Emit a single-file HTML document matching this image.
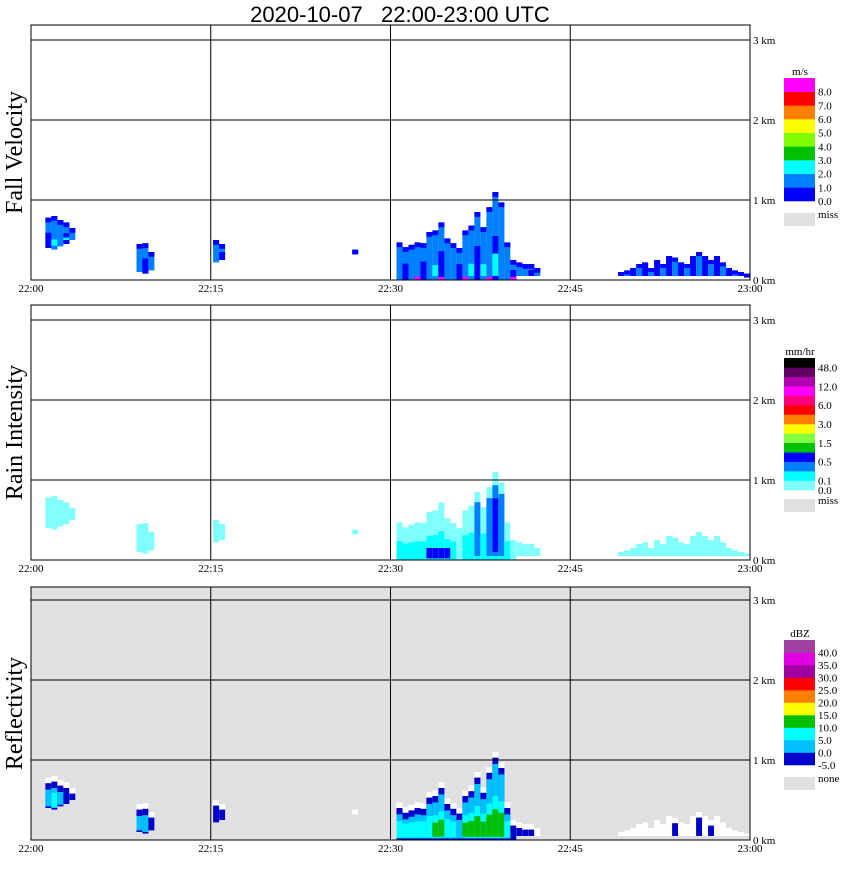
<!DOCTYPE html>
<html><head><meta charset="utf-8"><style>
body{margin:0;background:#fff;width:850px;height:868px;overflow:hidden}
svg text{font-family:"Liberation Serif",serif}
svg text.title{font-family:"Liberation Sans",sans-serif}
</style></head><body>
<svg id="c" width="850" height="868" xmlns="http://www.w3.org/2000/svg">
<text class="title" x="400" y="22" font-size="22" text-anchor="middle" xml:space="preserve">2020-10-07   22:00-23:00 UTC</text>
</svg>
<script>
// ---- data (time in minutes after 22:00, heights in km) ----
const timeTicks=[0,15,30,45,60];
const timeLabels=["22:00","22:15","22:30","22:45","23:00"];
const heightTicks=[0,1,2,3];
const heightLabels=["0 km","1 km","2 km","3 km"];
const panelTitles=["Fall Velocity","Rain Intensity","Reflectivity"];
const colTimes=[1.2,1.7,2.2,2.7,3.2, 8.8,9.3,9.8, 15.2,15.7, 26.8,
 30.5,31.0,31.5,32.0,32.5,33.0,33.5,34.0,34.5,35.0,35.5,36.0,36.5,37.0,37.5,38.0,38.5,39.0,39.5,40.0,40.5,41.0,41.5,42.0,
 49.0,49.5,50.0,50.5,51.0,51.5,52.0,52.5,53.0,53.5,54.0,54.5,55.0,55.5,56.0,56.5,57.0,57.5,58.0,58.5,59.0,59.5];
const colTops=[0.78,0.8,0.75,0.72,0.65, 0.45,0.46,0.35, 0.5,0.45, 0.38,
 0.47,0.41,0.44,0.47,0.46,0.6,0.62,0.72,0.52,0.46,0.4,0.62,0.68,0.85,0.66,0.91,1.1,0.97,0.47,0.25,0.22,0.2,0.2,0.15,
 0.1,0.12,0.15,0.2,0.22,0.15,0.25,0.2,0.3,0.28,0.22,0.2,0.3,0.35,0.3,0.25,0.3,0.22,0.15,0.12,0.1,0.08];
const colBottoms=[0.4,0.38,0.42,0.45,0.5, 0.1,0.08,0.12, 0.22,0.25, 0.32,
 0,0,0,0,0,0,0,0,0,0,0,0,0,0,0,0,0,0,0,0,0.05,0.05,0.05,0.05,
 0.05,0.05,0.05,0.05,0.05,0.05,0.05,0.05,0.05,0.05,0.05,0.05,0.05,0.05,0.05,0.05,0.05,0.05,0.05,0.05,0.05,0.05];
const velColors=["#0000ff","#0080ff","#00ffff","#00c000","#80ff00","#ffff00","#ff8000","#ff0000","#ff00ff"];
const velLabels=["0.0","1.0","2.0","3.0","4.0","5.0","6.0","7.0","8.0"];
const rainColors=["#80ffff","#00ffff","#0080ff","#0000ff","#00c000","#80ff40","#ffff00","#ff8000","#ff0000","#ff0080","#ff00ff","#b000b0","#600060","#000000"];
const rainLabels=["0.0","0.1","0.5","1.5","3.0","6.0","12.0","48.0"];
const dbzColors=["#0000c8","#00c0ff","#00ffff","#00c000","#ffff00","#ff8000","#ff0000","#a000a0","#e000e0","#a040a0"];
const dbzLabels=["-5.0","0.0","5.0","10.0","15.0","20.0","25.0","30.0","35.0","40.0"];

const NS="http://www.w3.org/2000/svg";
const svg=document.getElementById('c');
const X0=31,X1=750;
const panels=[{top:25,y0:280},{top:305,y0:560},{top:587,y0:840}];
const KM=80;
function xs(t){return X0+(X1-X0)*t/60;}
function mk(tag,attrs,parent){const e=document.createElementNS(NS,tag);for(const k in attrs)e.setAttribute(k,attrs[k]);(parent||svg).appendChild(e);return e;}

panels.forEach((p,pi)=>{
  const ys=h=>p.y0-h*KM;
  const g=mk('g',{});
  
  
  if(pi===2){const bg=mk('rect',{x:X0,y:p.top,width:X1-X0,height:p.y0-p.top,fill:'#e0e0e0'},g);
    }
  colTimes.forEach((t,i)=>{
    const top=colTops[i],bot=colBottoms[i];
    const x=xs(t),w=xs(t+0.5)-x;
    const bands=[];
    const h=top-bot;
    const late=t>45;
    if(pi===0){
      if(late){
        bands.push([bot,top,i%2?'#0000ff':'#0080ff']);
        bands.push([top-0.05,top,'#0000ff']);
      }else{
        bands.push([bot,top,'#0080ff']);
        bands.push([top-0.06,top,'#0000ff']);
        if(i%3===0)bands.push([bot,bot+h*0.5,'#0000ff']);
        if(top>0.6&&i%2===1)bands.push([bot+0.05,bot+h*0.3,'#00ffff']);
        if(bot===0&&i%4===2)bands.push([0,0.04,'#ff00ff']);
      }
    }else if(pi===1){
      bands.push([bot,top,'#80ffff']);
      if(top>0.4&&bot===0)bands.push([0,h*0.5,'#00ffff']);
      if(top>0.8)bands.push([0.05,top*0.85,'#0080ff']);
      if(top>1.0)bands.push([0.1,top*0.7,'#0000ff']);
      if(t>=33&&t<=34.5)bands.push([0.02,0.15,'#0000ff']);
    }else{
      bands.push([bot,top,'#ffffff']);
      if(late){
        if(top>=0.25&&i%2===0)bands.push([bot,top-0.07,'#0000c8']);
      }else{
        if(h>0.12)bands.push([bot,top-0.07,'#0000c8']);
        if(h>0.3)bands.push([bot+0.02,top-0.15,'#00c0ff']);
        if(h>0.4)bands.push([bot+0.03,bot+h*0.5,'#00ffff']);
        if(top>0.6&&bot===0)bands.push([0.04,top*0.35,'#00c000']);
      }
    }
    bands.forEach(b=>{
      const r=mk('rect',{x:x.toFixed(1),y:ys(b[1]).toFixed(1),width:w.toFixed(1),height:((b[1]-b[0])*KM).toFixed(1),fill:b[2]},g);
      
      
    });
  });
  mk('rect',{x:X0,y:p.top,width:X1-X0,height:p.y0-p.top,fill:'none',stroke:'#000','stroke-width':1},g);
  heightTicks.forEach((h,k)=>{
    if(h>0)mk('line',{x1:X0,x2:X1,y1:ys(h),y2:ys(h),stroke:'#000'},g);
    const tl=mk('text',{x:X1+3,y:ys(h)+4,'font-size':11},g);tl.textContent=heightLabels[k];
    
  });
  timeTicks.forEach((t,k)=>{
    mk('line',{x1:xs(t),x2:xs(t),y1:p.top,y2:p.y0,stroke:'#000'},g);
    const tl=mk('text',{x:xs(t),y:p.y0+12,'font-size':11,'text-anchor':'middle'},g);tl.textContent=timeLabels[k];
    
  });
  const yt=mk('text',{x:0,y:0,'font-size':24,'text-anchor':'middle',transform:`translate(22,${(p.top+p.y0)/2}) rotate(-90)`},g);
  yt.textContent=panelTitles[pi];
  
});

function legend(colors,labels,top,bottom,unit,miss,missY,labelIdx){
  const g=mk('g',{});
  
  
  const n=colors.length,ch=(bottom-top)/n;
  const u=mk('text',{x:800,y:top-3,'font-size':11,'text-anchor':'middle'},g);u.textContent=unit;
  colors.forEach((c,i)=>{
    const r=mk('rect',{x:784,y:(bottom-(i+1)*ch).toFixed(1),width:31,height:(ch+0.3).toFixed(1),fill:c},g);
    
  });
  labels.forEach((l,i)=>{
    const yy=bottom-labelIdx[i]*ch;
    const t=mk('text',{x:818,y:yy+4,'font-size':11},g);t.textContent=l;
    
  });
  mk('rect',{x:784,y:missY,width:31,height:13,fill:'#e0e0e0'},g);
  const m=mk('text',{x:818,y:missY+5,'font-size':11},g);m.textContent=miss;
}
legend(velColors,velLabels,78,201,'m/s','miss',213,[0,1,2,3,4,5,6,7,8]);
legend(rainColors,rainLabels,358,490,'mm/hr','miss',499,[0,1,3,5,7,9,11,13]);
legend(dbzColors,dbzLabels,640,765,'dBZ','none',777,[0,1,2,3,4,5,6,7,8,9]);
</script>
</body></html>
